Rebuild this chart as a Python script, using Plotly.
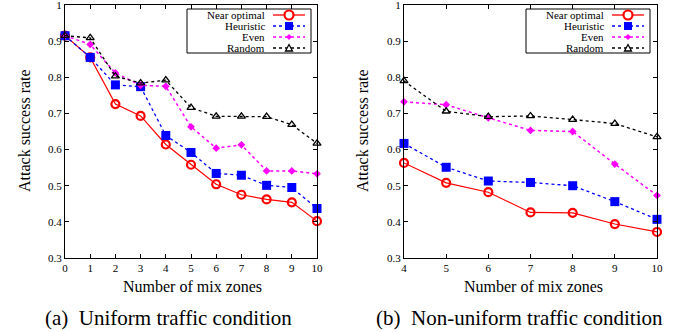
import plotly.graph_objects as go

# Left panel: uniform traffic
x_uniform = [0, 1, 2, 3, 4, 5, 6, 7, 8, 9, 10]
near_uniform = [0.915, 0.855, 0.726, 0.693, 0.614, 0.558, 0.504, 0.475, 0.462, 0.454, 0.402]
heur_uniform = [0.915, 0.855, 0.779, 0.774, 0.639, 0.592, 0.534, 0.529, 0.501, 0.495, 0.437]
even_uniform = [0.915, 0.891, 0.812, 0.778, 0.775, 0.663, 0.604, 0.613, 0.541, 0.541, 0.533]
rand_uniform = [0.915, 0.909, 0.803, 0.784, 0.792, 0.716, 0.692, 0.692, 0.691, 0.669, 0.617]

# Right panel: non-uniform traffic
x_nonuni = [4, 5, 6, 7, 8, 9, 10]
near_nonuni = [0.563, 0.508, 0.482, 0.426, 0.425, 0.394, 0.372]
heur_nonuni = [0.617, 0.551, 0.513, 0.509, 0.500, 0.456, 0.407]
even_nonuni = [0.732, 0.724, 0.688, 0.653, 0.650, 0.560, 0.473]
rand_nonuni = [0.790, 0.706, 0.691, 0.693, 0.683, 0.672, 0.635]

series_names = ["Near optimal", "Heuristic", "Even", "Random"]
y_ticks = [0.3, 0.4, 0.5, 0.6, 0.7, 0.8, 0.9, 1.0]
y_ticktext = ["0.3", "0.4", "0.5", "0.6", "0.7", "0.8", "0.9", "1"]

FONT = "Liberation Serif, Times New Roman, serif"
W, H = 682, 332
colors = ["#ff0000", "#0000ff", "#ff00ff", "#000000"]
dashes = ["solid", "dot", "dot", "dot"]

styles = [
    dict(line=dict(color=colors[0], width=1.2, dash="solid"),
         marker=dict(symbol="circle-open", size=8, color=colors[0], line=dict(width=2.2, color=colors[0]))),
    dict(line=dict(color=colors[1], width=1.3, dash="dot"),
         marker=dict(symbol="square", size=9, color=colors[1])),
    dict(line=dict(color=colors[2], width=1.5, dash="dot"),
         marker=dict(symbol="diamond", size=6, color=colors[2])),
    dict(line=dict(color=colors[3], width=1.3, dash="dot"),
         marker=dict(symbol="triangle-up-open", size=7, color=colors[3], line=dict(width=1.3, color=colors[3]))),
]

fig = go.Figure()
left = [near_uniform, heur_uniform, even_uniform, rand_uniform]
right = [near_nonuni, heur_nonuni, even_nonuni, rand_nonuni]

for name, ys, st in zip(series_names, left, styles):
    fig.add_trace(go.Scatter(x=x_uniform, y=ys, name=name, mode="lines+markers",
                             xaxis="x", yaxis="y", showlegend=False, cliponaxis=False, **st))
for name, ys, st in zip(series_names, right, styles):
    fig.add_trace(go.Scatter(x=x_nonuni, y=ys, name=name, mode="lines+markers",
                             xaxis="x2", yaxis="y2", showlegend=False, cliponaxis=False, **st))

axis_common = dict(showline=True, linecolor="black", linewidth=1, mirror="allticks",
                   ticks="inside", ticklen=4, tickcolor="black", showgrid=False, zeroline=False,
                   automargin=False, ticklabeloverflow="allow",
                   tickfont=dict(family=FONT, size=11, color="black"))

def px(x):
    return x / W

def py(y):
    return 1 - y / H

shapes = []
annotations = []

# ---- custom legend (text right-aligned, sample on the right) ----
row_y = [15, 26, 37, 48]
for box_right in [311, 650]:
    box_left = box_right - 124
    shapes.append(dict(type="rect", xref="paper", yref="paper", x0=px(box_left), x1=px(box_right),
                       y0=py(53), y1=py(9), line=dict(color="black", width=1), fillcolor="white",
                       layer="above"))
    text_right = box_right - 44
    l0, l1, mx = box_right - 38, box_right - 6, box_right - 22
    for i, name in enumerate(series_names):
        yy = row_y[i]
        annotations.append(dict(text=name, x=px(text_right), y=py(yy), xref="paper", yref="paper",
                                showarrow=False, xanchor="right", yanchor="middle",
                                font=dict(family=FONT, size=11, color="black")))
        shapes.append(dict(type="line", xref="paper", yref="paper", x0=px(l0), x1=px(l1),
                           y0=py(yy), y1=py(yy), layer="above",
                           line=dict(color=colors[i], width=1.3, dash=dashes[i])))
    shapes.append(dict(type="circle", xref="paper", yref="paper", x0=px(mx - 4.5), x1=px(mx + 4.5),
                       y0=py(row_y[0] + 4.5), y1=py(row_y[0] - 4.5), layer="above",
                       fillcolor="white", line=dict(color=colors[0], width=2.2)))
    shapes.append(dict(type="rect", xref="paper", yref="paper", x0=px(mx - 4), x1=px(mx + 4),
                       y0=py(row_y[1] + 4), y1=py(row_y[1] - 4), layer="above",
                       fillcolor=colors[1], line=dict(color=colors[1], width=0)))
    yd = row_y[2]
    shapes.append(dict(type="path", xref="paper", yref="paper", layer="above",
                       path=f"M {px(mx-3)},{py(yd)} L {px(mx)},{py(yd-3)} L {px(mx+3)},{py(yd)} L {px(mx)},{py(yd+3)} Z",
                       fillcolor=colors[2], line=dict(color=colors[2], width=0)))
    yt = row_y[3]
    shapes.append(dict(type="path", xref="paper", yref="paper", layer="above",
                       path=f"M {px(mx-3.5)},{py(yt+3)} L {px(mx+3.5)},{py(yt+3)} L {px(mx)},{py(yt-3.5)} Z",
                       fillcolor="white", line=dict(color=colors[3], width=1.3)))

# ---- axis titles and captions ----
title_font = dict(family=FONT, size=16, color="black")
for xc in [192, 533]:
    annotations.append(dict(text="Number of mix zones", x=px(xc), y=py(286), xref="paper", yref="paper",
                            showarrow=False, xanchor="center", yanchor="middle", font=title_font))
for xc in [24, 362]:
    annotations.append(dict(text="Attack success rate", x=px(xc), y=py(131), xref="paper", yref="paper",
                            showarrow=False, xanchor="center", yanchor="middle", textangle=-90,
                            font=title_font))

annotations += [
    dict(text="(a)  Uniform traffic condition", x=px(168), y=py(318), xref="paper", yref="paper",
         showarrow=False, xanchor="center", yanchor="middle", font=dict(family=FONT, size=21)),
    dict(text="(b)  Non-uniform traffic condition", x=px(519), y=py(318), xref="paper", yref="paper",
         showarrow=False, xanchor="center", yanchor="middle", font=dict(family=FONT, size=21)),
]

fig.update_layout(
    width=W, height=H,
    margin=dict(l=0, r=0, t=0, b=0),
    paper_bgcolor="white", plot_bgcolor="white",
    font=dict(family=FONT, color="black"),
    xaxis=dict(domain=[px(65), px(317)], range=[0, 10], tickvals=x_uniform, anchor="y", **axis_common),
    yaxis=dict(domain=[py(258), py(5)], range=[0.3, 1.0], tickvals=y_ticks, ticktext=y_ticktext,
               anchor="x", **axis_common),
    xaxis2=dict(domain=[px(404), px(657)], range=[4, 10], tickvals=x_nonuni, anchor="y2", **axis_common),
    yaxis2=dict(domain=[py(258), py(5)], range=[0.3, 1.0], tickvals=y_ticks, ticktext=y_ticktext,
                anchor="x2", **axis_common),
    showlegend=False,
    shapes=shapes,
    annotations=annotations,
)

fig.write_html("out.html", config={"displayModeBar": False},
               post_script="document.body.style.margin='0px';document.body.style.overflow='hidden';")
